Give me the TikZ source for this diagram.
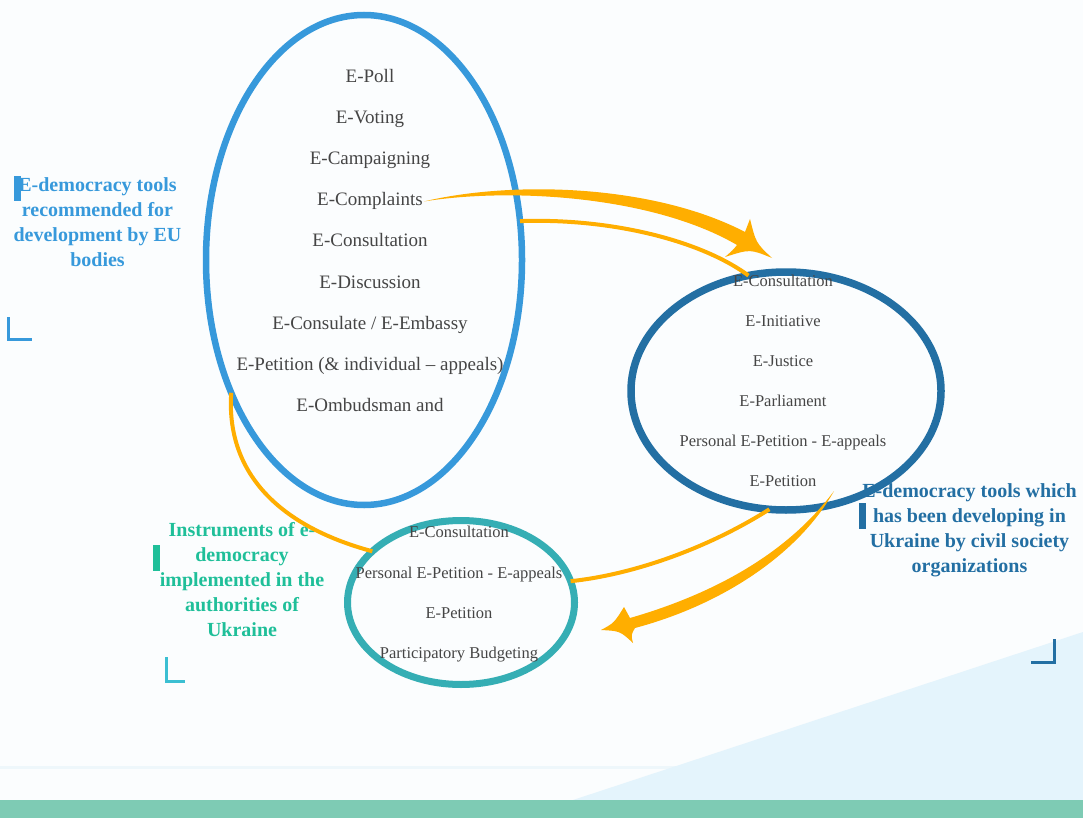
\documentclass[tikz,border=0pt]{standalone}
\usepackage{fontspec}
\setmainfont{Liberation Serif}
\usetikzlibrary{shapes.geometric}
\definecolor{bgc}{HTML}{FBFDFE}
\definecolor{tric}{HTML}{E4F4FC}
\definecolor{bandc}{HTML}{EEF7FB}
\definecolor{barc}{HTML}{7ECBB4}
\definecolor{blueA}{HTML}{3799DB}
\definecolor{blueB}{HTML}{236FA3}
\definecolor{tealC}{HTML}{35AEB4}
\definecolor{greenL}{HTML}{1FBF99}
\definecolor{cyanL}{HTML}{3BBFD2}
\definecolor{orng}{HTML}{FFAE00}
\definecolor{txtg}{HTML}{454545}
\begin{document}
\begin{tikzpicture}[x=1pt,y=-1pt,
 ell/.style={ellipse, draw, outer sep=0pt, inner sep=0pt},
 etxt/.style={text=txtg, inner sep=1pt, anchor=base, font=\fontsize{19}{23}\selectfont},
 stxt/.style={text=txtg, inner sep=1pt, anchor=base, font=\fontsize{16.5}{20}\selectfont},
 lab/.style={align=center, inner sep=0pt, font=\bfseries\fontsize{20}{25}\selectfont},
 olin/.style={draw=orng, line width=4pt},
 oarr/.style={fill=orng},
 crn/.style={line width=3pt}
]
% background
\path[fill=bgc, use as bounding box] (0,0) rectangle (1083,818);
\fill[bandc] (0,766) rectangle (1083,769);
\fill[tric] (573,800) -- (1083,632) -- (1083,800) -- cycle;
\fill[barc] (0,800) rectangle (1083,818);

% side labels
\node[lab, text=blueA] (l1) at (97.5,222.5) {E-democracy tools\\recommended for\\development by EU\\bodies};
\node[lab, text=greenL] (l2) at (242,580) {Instruments of e-\\democracy\\implemented in the\\authorities of\\Ukraine};
\node[lab, text=blueB] (l3) at (969.5,530) {E-democracy tools which\\has been developing in\\Ukraine by civil society\\organizations};

% marker bars and corners
\fill[blueA] (14,176) rectangle (21,201);
\fill[greenL] (153,545) rectangle (160,571);
\fill[blueB] (859,503) rectangle (866,529);
\draw[blueA, crn] (8.5,317) -- (8.5,339.5) -- (32,339.5);
\draw[cyanL, crn] (166.5,657) -- (166.5,681) -- (185,681);
\draw[blueB, crn] (1031,662) -- (1054,662) -- (1054,639);

% ellipses
\node[ell, draw=blueA, line width=6.5, minimum width=316, minimum height=490] (e1) at (364,260) {};
\node[ell, draw=blueB, line width=7.5, minimum width=310, minimum height=238] (e2) at (786,391) {};
\node[ell, draw=tealC, line width=7, minimum width=227, minimum height=164] (e3) at (461,602.5) {};

% texts in e1
\node[etxt] (poll) at (370,83) {E-Poll};
\node[etxt] (voting) at (370,124) {E-Voting};
\node[etxt] (campaign) at (370,165) {E-Campaigning};
\node[etxt] (compl) at (370,206) {E-Complaints};
\node[etxt] (consult) at (370,247) {E-Consultation};
\node[etxt] (discuss) at (370,288) {E-Discussion};
\node[etxt] (consulate) at (370,329) {E-Consulate / E-Embassy};
\node[etxt] (petition) at (370,370) {E-Petition (\& individual – appeals)};
\node[etxt] (ombud) at (370,411) {E-Ombudsman and};

% texts in e2
\node[stxt] (cons2) at (783,286) {E-Consultation};
\node[stxt] (init) at (783,326) {E-Initiative};
\node[stxt] (justice) at (783,366) {E-Justice};
\node[stxt] (parl) at (783,406) {E-Parliament};
\node[stxt] (pers2) at (783,446) {Personal E-Petition - E-appeals};
\node[stxt] (pet2) at (783,486) {E-Petition};

% texts in e3
\node[stxt] (cons3) at (459,537) {E-Consultation};
\node[stxt] (pers3) at (459,578) {Personal E-Petition - E-appeals};
\node[stxt] (pet3) at (459,618) {E-Petition};
\node[stxt] (budget) at (459,658) {Participatory Budgeting};

% connectors
\draw[olin] (e1.14) .. controls (610,218) and (700,240) .. (e2.108);
\draw[olin] (e1.225) .. controls (226,470) and (275,525) .. (e3.150);
\draw[olin] (e2.262) .. controls (705,550) and (630,575) .. (e3.11);

% tapered arrow 1
\coordinate (t1) at (772,258);
\fill[oarr] (compl.east) .. controls (515,180) and (655,185) .. (745,232) -- (750,219)
  .. controls (756,243) .. (t1) .. controls (750,249) .. (725,257)
  .. controls (733,250) .. (737,245)
  .. controls (655,197) and (515,187) .. (compl.east) -- cycle;

% tapered arrow 2
\coordinate (s2) at (834,491);
\coordinate (t2) at (601,630);
\fill[oarr] (s2) .. controls (790,550) and (720,592) .. (630,618) -- (624,607)
  .. controls (614,623) .. (t2) .. controls (620,631) .. (633,643)
  .. controls (631,635) .. (635,628)
  .. controls (725,604) and (800,552) .. (s2) -- cycle;
\end{tikzpicture}
\end{document}
